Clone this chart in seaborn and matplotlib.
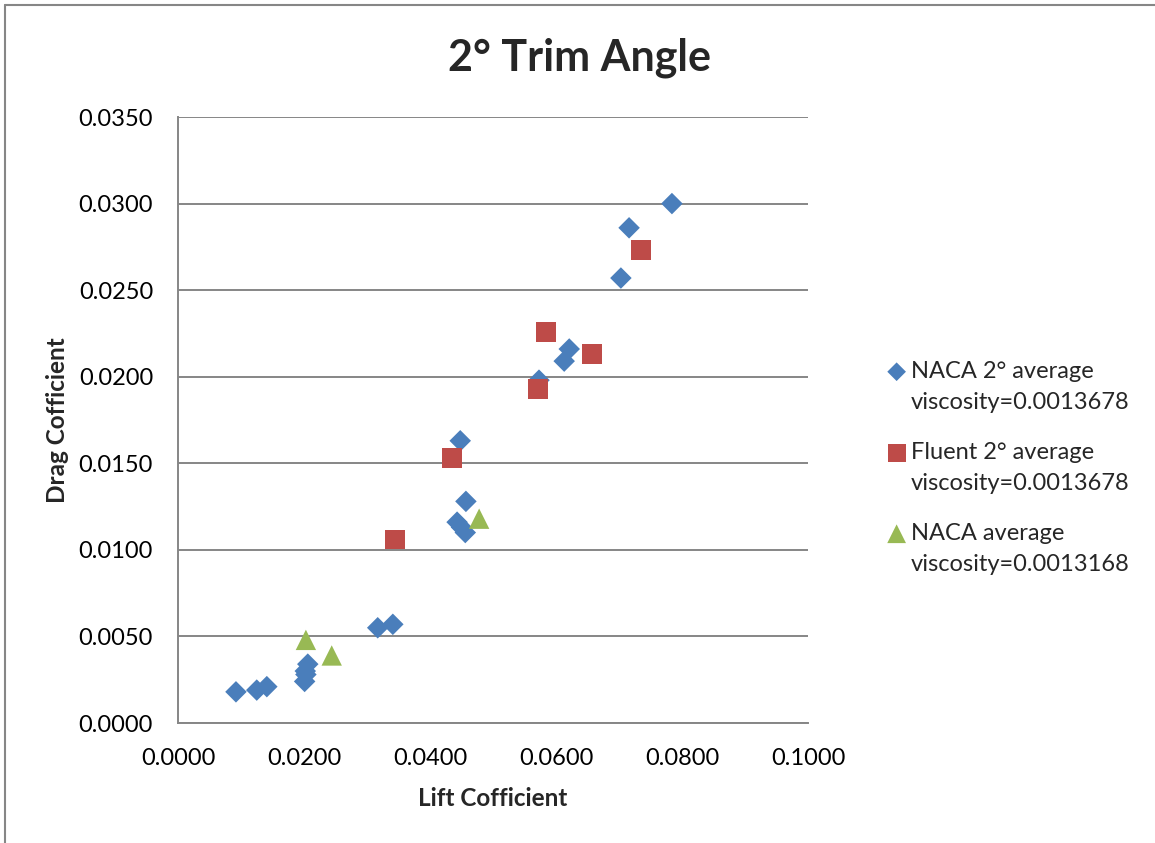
import matplotlib
matplotlib.use("Agg")
import matplotlib.pyplot as plt
import seaborn as sns
import pandas as pd
from matplotlib.lines import Line2D

naca2_lift = [0.0092, 0.0125, 0.0141, 0.0202, 0.0206, 0.0201, 0.0203, 0.0317, 0.0341,
              0.0448, 0.0457, 0.0443, 0.0456, 0.0450, 0.0573, 0.0613, 0.0621, 0.0703,
              0.0716, 0.0784]
naca2_drag = [0.0018, 0.0019, 0.0021, 0.0030, 0.0034, 0.0024, 0.0028, 0.0055, 0.0057,
              0.0163, 0.0128, 0.0116, 0.0110, 0.0113, 0.0198, 0.0209, 0.0216, 0.0257,
              0.0286, 0.0300]
fluent_lift = [0.0344, 0.0435, 0.0571, 0.0584, 0.0657, 0.0735]
fluent_drag = [0.0106, 0.0153, 0.0193, 0.0226, 0.0213, 0.0273]
naca_lift = [0.0203, 0.0244, 0.0478]
naca_drag = [0.0048, 0.0039, 0.0118]

labels = ["NACA 2° average\nviscosity=0.0013678",
          "Fluent 2° average\nviscosity=0.0013678",
          "NACA average\nviscosity=0.0013168"]
colors = ["#4A7EBB", "#BE4B48", "#98B954"]
markers = ["D", "s", "^"]
sizes = [120, 200, 215]

sns.set_theme(style="white")
plt.rcParams['font.family'] = ['Lato', 'DejaVu Sans']

fig = plt.figure(figsize=(11.55, 8.43), dpi=100)
ax = fig.add_axes([178/1155, 1-723/843, (808-178)/1155, (723-117)/843])

series = [(naca2_lift, naca2_drag), (fluent_lift, fluent_drag), (naca_lift, naca_drag)]
for (xs, ys), lab, c, m, s in zip(series, labels, colors, markers, sizes):
    df = pd.DataFrame({"lift": xs, "drag": ys})
    sns.scatterplot(data=df, x="lift", y="drag", ax=ax, color=c, marker=m, s=s,
                    edgecolor="none", linewidth=0, label=lab, zorder=3)

ax.set_xlim(0, 0.1)
ax.set_ylim(0, 0.035)
ax.set_xticks([i * 0.02 for i in range(6)])
ax.set_yticks([i * 0.005 for i in range(8)])
ax.set_xticklabels([f"{i*0.02:.4f}" for i in range(6)])
ax.set_yticklabels([f"{i*0.005:.4f}" for i in range(8)])
ax.tick_params(axis="both", labelsize=17, length=0, colors="black")
ax.tick_params(axis="y", pad=18)
ax.tick_params(axis="x", pad=18)
ax.yaxis.grid(True, color="#868686", linewidth=1.4)
ax.xaxis.grid(False)
ax.set_axisbelow(True)
for sp in ["top", "right"]:
    ax.spines[sp].set_visible(False)
for sp in ["left", "bottom"]:
    ax.spines[sp].set_color("#868686")
    ax.spines[sp].set_linewidth(1.4)

ax.set_xlabel("Lift Cofficient", fontsize=17.5, fontweight="bold", va="center", ha="center")
ax.set_ylabel("Drag Cofficient", fontsize=17.5, fontweight="bold", va="center", ha="center")
ax.xaxis.set_label_coords(0.5, (723-798)/606)
ax.yaxis.set_label_coords((57-178)/630, 0.5)

fig.text(580/1155, 1-58/843, "2° Trim Angle", fontsize=31, fontweight="bold",
         ha="center", va="center")

leg = ax.legend(loc="upper left", bbox_to_anchor=(886/1155, 1-361/843),
                bbox_transform=fig.transFigure, frameon=False, fontsize=17,
                handletextpad=0.15, labelspacing=1.22, handlelength=0.9,
                handleheight=1.0, borderaxespad=0, borderpad=0)
for t in leg.get_texts():
    t.set_linespacing(1.6)
for col in leg._legend_handle_box.get_children():
    for row in col.get_children():
        row.align = "top"
for h, s in zip(leg.legend_handles, [9.5, 13, 13.5]):
    h.set_sizes([s * s])

fig.add_artist(Line2D([5/1155, 5/1155], [0, 1-5/843], color="#868686", linewidth=1.5,
                      transform=fig.transFigure))
fig.add_artist(Line2D([5/1155, 1], [1-5/843, 1-5/843], color="#868686", linewidth=1.5,
                      transform=fig.transFigure))

fig.savefig("out.png", dpi=100, facecolor="white")
